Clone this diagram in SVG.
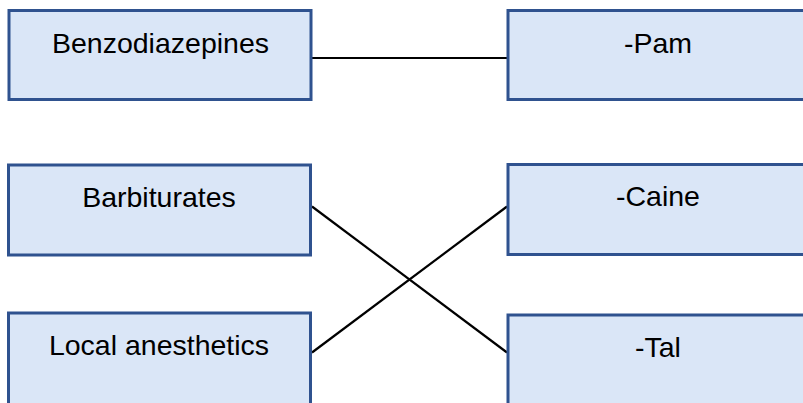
<svg xmlns="http://www.w3.org/2000/svg" width="803" height="403" viewBox="0 0 803 403">
<style>
.box{fill:#DAE6F7;stroke:#2F528F;stroke-width:3}
.lbl{font-family:"Liberation Sans",Arial,sans-serif;font-size:28.5px;fill:#000;text-anchor:middle}
.conn{stroke:#000;stroke-width:2.2;fill:none}
</style>
<rect width="803" height="403" fill="#fff"/>
<g id="connectors">
<line class="conn" x1="312" y1="58" x2="507" y2="58"/>
<line class="conn" x1="312" y1="206.5" x2="507" y2="352.5"/>
<line class="conn" x1="312" y1="352.5" x2="507" y2="206.5"/>
</g>
<g id="benzodiazepines">
<rect class="box" x="9" y="10.5" width="302" height="89"/>
<text class="lbl" x="160.5" y="53">Benzodiazepines</text>
</g>
<g id="pam">
<rect class="box" x="508" y="10.5" width="302" height="89"/>
<text class="lbl" x="658" y="53">-Pam</text>
</g>
<g id="barbiturates">
<rect class="box" x="8.5" y="165" width="302" height="90"/>
<text class="lbl" x="159" y="206.5">Barbiturates</text>
</g>
<g id="caine">
<rect class="box" x="508" y="164.5" width="302" height="90"/>
<text class="lbl" x="658" y="206">-Caine</text>
</g>
<g id="local-anesthetics">
<rect class="box" x="8.5" y="313" width="302" height="95"/>
<text class="lbl" x="159" y="355">Local anesthetics</text>
</g>
<g id="tal">
<rect class="box" x="508" y="315" width="302" height="95"/>
<text class="lbl" x="658" y="357">-Tal</text>
</g>
</svg>
